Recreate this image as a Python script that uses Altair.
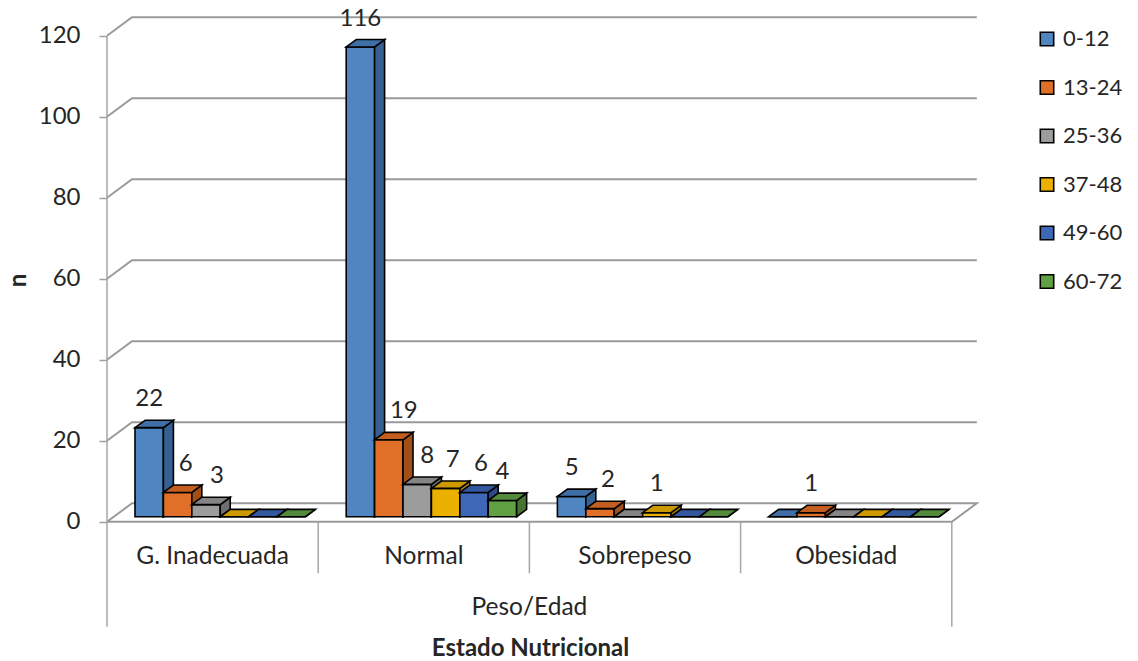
import altair as alt
import pandas as pd

# ---------------- data ----------------
CATEGORIES = ["G. Inadecuada", "Normal", "Sobrepeso", "Obesidad"]
SERIES = ["0-12", "13-24", "25-36", "37-48", "49-60", "60-72"]
V_0_12 = [22, 116, 5, 0]
V_13_24 = [6, 19, 2, 1]
V_25_36 = [3, 8, 0, 0]
V_37_48 = [0, 7, 1, 0]
V_49_60 = [0, 6, 0, 0]
V_60_72 = [0, 4, 0, 0]
VALUES = [V_0_12, V_13_24, V_25_36, V_37_48, V_49_60, V_60_72]
Y_TICKS = [0, 20, 40, 60, 80, 100, 120]
GROUP_LABEL = "Peso/Edad"
X_TITLE = "Estado Nutricional"
Y_TITLE = "n"

# ---------------- style ----------------
FRONT = ["#4F86C2", "#E07028", "#9C9C9C", "#EBB000", "#3E67B8", "#61A043"]
SIDE = ["#35608F", "#A24E18", "#6E6E6E", "#AD8100", "#2B4A87", "#467531"]
TOP = ["#3F6FA6", "#C45E1E", "#858585", "#CC9900", "#34589E", "#52893A"]
TEXT = "#262626"
GRID = "#9a9a9a"
FONT = "Lato"
# label nudges in px (category index, series index)
LABEL_NUDGE = {(0, 1): 8, (0, 2): 11, (1, 1): 15, (1, 2): 10, (1, 3): 7, (1, 4): 7, (2, 1): 8}

PLOT_W, PLOT_H = 873, 620
PAD = {"left": 107, "top": 10, "right": 158, "bottom": 31}
CAT_PX = 211.2          # px per category
PX_PER_UNIT = 4.05      # px per value unit
ZERO_FROM_TOP = 511.7   # px from plot top to value 0 on the front plane
DEPTH_PX = (25.0, 18.4)  # depth of the floor in px (dx, dy)
BAR_DEPTH = (0.27, 0.67)
BAR_W = 0.1345
GROUP_GAP = 0.1006
EDGE = 1.6

DXU = DEPTH_PX[0] / CAT_PX
DYV = DEPTH_PX[1] / PX_PER_UNIT
F0, F1 = BAR_DEPTH
NCAT = len(CATEGORIES)
X_DOMAIN = [0, PLOT_W / CAT_PX]
Y_DOMAIN = [-(PLOT_H - ZERO_FROM_TOP) / PX_PER_UNIT, ZERO_FROM_TOP / PX_PER_UNIT]


def below(px):
    return -px / PX_PER_UNIT


X_AXIS = alt.Axis(labels=False, ticks=False, domain=False, grid=False,
                  title=X_TITLE, titleFont=FONT, titleFontSize=24, titleFontWeight="bold",
                  titleColor=TEXT, titleX=423, titleY=18, titleAlign="center",
                  titleBaseline="middle")
Y_AXIS = alt.Axis(values=Y_TICKS, grid=False, domain=False, ticks=True, tickSize=8,
                  tickColor="#a0a0a0", tickWidth=1.5, labelFont=FONT, labelFontSize=24,
                  labelColor=TEXT, labelPadding=19, labelOverlap=False,
                  title=Y_TITLE, titleFont=FONT, titleFontSize=24, titleFontWeight="bold",
                  titleColor=TEXT, titleX=-89, titleY=270, titleAngle=270,
                  titleAlign="center", titleBaseline="middle")
XS = alt.Scale(domain=X_DOMAIN, nice=False, zero=False)
YS = alt.Scale(domain=Y_DOMAIN, nice=False, zero=False)


def X(f):
    return alt.X(f"{f}:Q", scale=XS, axis=X_AXIS, title=X_TITLE)


def Y(f):
    return alt.Y(f"{f}:Q", scale=YS, axis=Y_AXIS, title=Y_TITLE)


# ---------------- gridlines / frame ----------------
grid_rows = []
for t in Y_TICKS:
    if t == 0:
        pts = [(0, 0), (DXU, DYV), (NCAT + DXU, DYV), (NCAT, 0), (0, 0)]
    else:
        pts = [(0, t), (DXU, t + DYV), (NCAT + DXU, t + DYV)]
    for k, (u, v) in enumerate(pts):
        grid_rows.append({"g": t, "k": k, "u": u, "v": v})
grid = alt.Chart(pd.DataFrame(grid_rows)).mark_line(color=GRID, strokeWidth=2).encode(
    x=X("u"), y=Y("v"), detail="g:N", order="k:Q")

rule_rows = [{"u": 0, "a": max(Y_TICKS), "b": below(105)}, {"u": NCAT, "a": 0, "b": below(105)}]
for i in range(1, NCAT):
    rule_rows.append({"u": i, "a": 0, "b": below(51.6)})
rules = alt.Chart(pd.DataFrame(rule_rows)).mark_rule(color="#a6a6a6", strokeWidth=1.5).encode(
    x=X("u"), y=Y("a"), y2="b:Q")

cat_text = alt.Chart(pd.DataFrame({"c": CATEGORIES, "u": [i + 0.5 for i in range(NCAT)],
                                   "v": [below(35)] * NCAT})).mark_text(
    font=FONT, fontSize=24.5, color=TEXT, baseline="middle").encode(x=X("u"), y=Y("v"), text="c:N")
group_text = alt.Chart(pd.DataFrame({"c": [GROUP_LABEL], "u": [NCAT / 2], "v": [below(86.3)]})).mark_text(
    font=FONT, fontSize=24.5, color=TEXT, baseline="middle").encode(x=X("u"), y=Y("v"), text="c:N")

# ---------------- bars ----------------
layers = [grid, rules, cat_text, group_text]
label_rows = []
for j, s in enumerate(SERIES):
    fr, sd, tp = [], [], []
    for i, val in enumerate(VALUES[j]):
        u0 = i + GROUP_GAP + j * BAR_W
        u1 = u0 + BAR_W
        bid = f"{i}-{j}"
        fr.append({"serie": s, "x0": u0 + F0 * DXU, "x1": u1 + F0 * DXU,
                   "y0": F0 * DYV, "y1": val + F0 * DYV})
        for f in (F0, F1):
            sd.append({"b": bid, "x": u1 + f * DXU, "lo": f * DYV, "hi": val + f * DYV})
            tp.append({"b": bid, "y": val + f * DYV, "xa": u0 + f * DXU, "xb": u1 + f * DXU})
        if val > 0:
            label_rows.append({"t": str(val),
                               "u": (u0 + u1) / 2 + F0 * DXU + LABEL_NUDGE.get((i, j), 0) / CAT_PX,
                               "v": val + F1 * DYV})
    front = alt.Chart(pd.DataFrame(fr)).mark_rect(stroke="black", strokeWidth=EDGE).encode(
        x=X("x0"), x2="x1:Q", y=Y("y0"), y2="y1:Q",
        fill=alt.Fill("serie:N", scale=alt.Scale(domain=SERIES, range=FRONT),
                      legend=alt.Legend(orient="none", legendX=929, legendY=18, title=None,
                                        symbolType="square", symbolSize=180,
                                        symbolStrokeColor="black", symbolStrokeWidth=1.6,
                                        labelFont=FONT, labelFontSize=22, labelColor=TEXT,
                                        rowPadding=26.5, labelOffset=5, padding=0)))
    side = alt.Chart(pd.DataFrame(sd)).mark_area(
        orient="vertical", fill=SIDE[j], stroke="black", strokeWidth=EDGE).encode(
        x=X("x"), y=Y("lo"), y2="hi:Q", detail="b:N")
    top = alt.Chart(pd.DataFrame(tp)).mark_area(
        orient="horizontal", fill=TOP[j], stroke="black", strokeWidth=EDGE).encode(
        y=Y("y"), x=X("xa"), x2="xb:Q", detail="b:N")
    layers += [front, side, top]

labels = alt.Chart(pd.DataFrame(label_rows)).mark_text(
    font=FONT, fontSize=24, color=TEXT, baseline="middle", dy=-21).encode(
    x=X("u"), y=Y("v"), text="t:N")
layers.append(labels)

chart = alt.layer(*layers).properties(
    width=PLOT_W, height=PLOT_H, padding=PAD,
    autosize=alt.AutoSizeParams(type="none"),
    background="white",
).configure_view(stroke=None)

chart.save("out.html", embed_options={"renderer": "svg", "actions": False})
